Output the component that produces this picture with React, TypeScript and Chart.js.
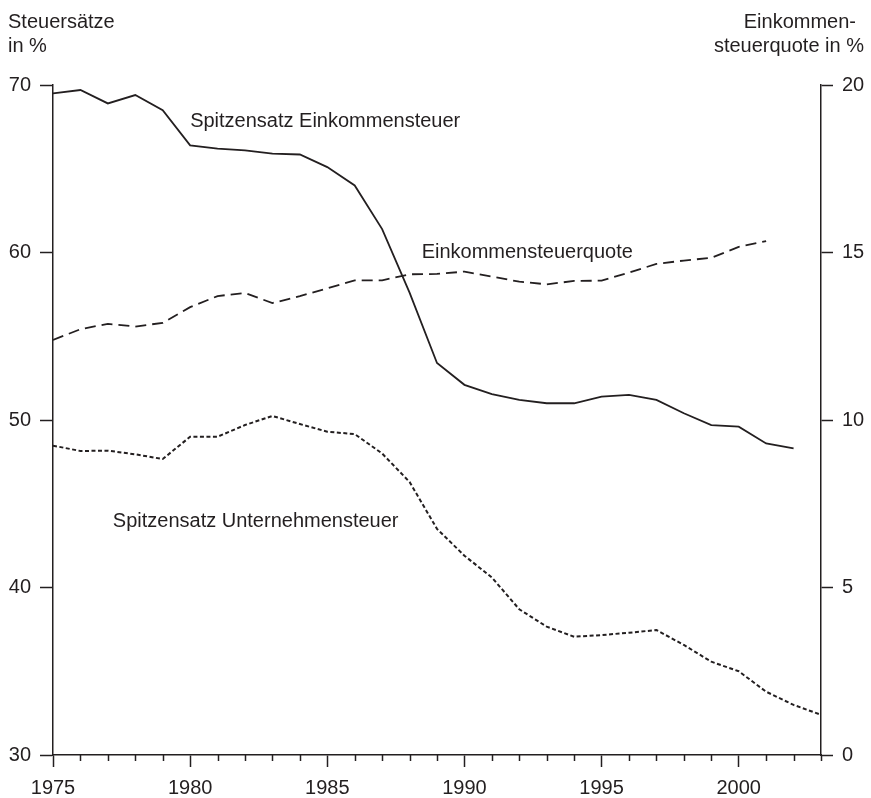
import React, { useEffect, useRef } from "react";
import { Chart, registerables } from "chart.js";

Chart.register(...registerables);

const years = [
  1975, 1976, 1977, 1978, 1979, 1980, 1981, 1982, 1983, 1984, 1985, 1986, 1987, 1988, 1989,
  1990, 1991, 1992, 1993, 1994, 1995, 1996, 1997, 1998, 1999, 2000, 2001, 2002, 2003,
];

// Spitzensatz Einkommensteuer (left axis, %), 1975–2002
const spitzensatzEinkommensteuer = [
  69.5, 69.7, 68.9, 69.4, 68.5, 66.4, 66.2, 66.1, 65.9, 65.85, 65.1, 64.0, 61.4, 57.6, 53.4,
  52.1, 51.55, 51.2, 51.0, 51.0, 51.4, 51.5, 51.2, 50.4, 49.7, 49.6, 48.6, 48.3,
];

// Einkommensteuerquote (right axis, %), 1975–2001
const einkommensteuerquote = [
  12.39, 12.71, 12.87, 12.79, 12.9, 13.37, 13.7, 13.79, 13.49, 13.7, 13.93, 14.17, 14.17, 14.35,
  14.36, 14.43, 14.28, 14.13, 14.05, 14.15, 14.16, 14.4, 14.66, 14.76, 14.84, 15.17, 15.34,
];

// Spitzensatz Unternehmensteuer (left axis, %), 1975–2003
const spitzensatzUnternehmensteuer = [
  48.47, 48.15, 48.17, 47.95, 47.67, 49.0, 49.0, 49.7, 50.24, 49.76, 49.3, 49.16, 48.0, 46.3,
  43.5, 41.9, 40.6, 38.7, 37.66, 37.06, 37.16, 37.3, 37.46, 36.57, 35.57, 35.0, 33.78, 32.99,
  32.4,
];

const leftTicks = [30, 40, 50, 60, 70];
const rightTicks = [0, 5, 10, 15, 20];

const leftTitle = ["Steuersätze", "in %"];
const rightTitle = ["Einkommen-", "steuerquote in %"];

const seriesLabels = [
  { text: "Spitzensatz Einkommensteuer", year: 1980, value: 67.5, axis: "y" },
  { text: "Einkommensteuerquote", year: 1988.44, value: 14.83, axis: "y1" },
  { text: "Spitzensatz Unternehmensteuer", year: 1977.18, value: 43.6, axis: "y" },
];

const INK = "#231f20";
const FONT_FAMILY = '"Liberation Sans", Arial, Helvetica, sans-serif';
const FONT_SIZE = 20;

function toXY(values: number[]) {
  return values.map((v, i) => ({ x: years[i], y: v }));
}

const decorPlugin = {
  id: "decor",
  afterDraw(chart: any) {
    const ctx = chart.ctx;
    const xs = chart.scales.x;
    ctx.save();
    // minor ticks on x axis
    ctx.strokeStyle = INK;
    ctx.lineWidth = 1.5;
    for (const yr of years) {
      if (yr % 5 === 0) continue;
      const px = Math.round(xs.getPixelForValue(yr)) + 0.5;
      ctx.beginPath();
      ctx.moveTo(px, xs.top);
      ctx.lineTo(px, xs.top + 6);
      ctx.stroke();
    }
    ctx.fillStyle = INK;
    ctx.font = `${FONT_SIZE}px ${FONT_FAMILY}`;
    ctx.textBaseline = "alphabetic";
    // axis titles
    ctx.textAlign = "left";
    ctx.fillText(leftTitle[0], 8, 28);
    ctx.fillText(leftTitle[1], 8, 52);
    ctx.textAlign = "right";
    ctx.fillText(rightTitle[0], 856, 28);
    ctx.fillText(rightTitle[1], 864, 52);
    // series labels
    ctx.textAlign = "left";
    for (const l of seriesLabels) {
      const px = xs.getPixelForValue(l.year);
      const py = chart.scales[l.axis].getPixelForValue(l.value);
      ctx.fillText(l.text, px, py);
    }
    ctx.restore();
  },
};

export default function App() {
  const canvasRef = useRef<HTMLCanvasElement | null>(null);

  useEffect(() => {
    if (!canvasRef.current) return;
    const font = { family: FONT_FAMILY, size: FONT_SIZE };
    const chart = new Chart(canvasRef.current, {
      type: "line",
      data: {
        datasets: [
          {
            label: "Spitzensatz Einkommensteuer",
            data: toXY(spitzensatzEinkommensteuer),
            yAxisID: "y",
            borderColor: INK,
            borderWidth: 1.8,
            pointRadius: 0,
            tension: 0,
            fill: false,
          },
          {
            label: "Einkommensteuerquote",
            data: toXY(einkommensteuerquote),
            yAxisID: "y1",
            borderColor: INK,
            borderWidth: 1.8,
            borderDash: [11, 6],
            pointRadius: 0,
            tension: 0,
            fill: false,
          },
          {
            label: "Spitzensatz Unternehmensteuer",
            data: toXY(spitzensatzUnternehmensteuer),
            yAxisID: "y",
            borderColor: INK,
            borderWidth: 2,
            borderDash: [4, 2.5],
            pointRadius: 0,
            tension: 0,
            fill: false,
          },
        ],
      },
      options: {
        animation: false,
        responsive: true,
        maintainAspectRatio: false,
        layout: { padding: { top: 85, left: 0, right: 0, bottom: 0 } },
        plugins: { legend: { display: false }, tooltip: { enabled: false } },
        scales: {
          x: {
            type: "linear",
            min: 1975,
            max: 2003,
            afterFit: (s: any) => {
              s.height = 43;
            },
            afterBuildTicks: (s: any) => {
              s.ticks = years.map((v) => ({ value: v }));
            },
            ticks: {
              autoSkip: false,
              maxRotation: 0,
              color: INK,
              font,
              padding: 9,
              callback: (v: any) => (Number(v) % 5 === 0 ? String(v) : ""),
            },
            grid: {
              drawOnChartArea: false,
              drawTicks: true,
              tickLength: 12,
              tickWidth: 1.5,
              tickColor: (c: any) =>
                c.tick && c.tick.value % 5 === 0 ? INK : "rgba(0,0,0,0)",
            },
            border: { display: true, color: INK, width: 1.5 },
          },
          y: {
            type: "linear",
            position: "left",
            min: 30,
            max: 70,
            afterFit: (s: any) => {
              s.width = 53;
            },
            afterBuildTicks: (s: any) => {
              s.ticks = leftTicks.map((v) => ({ value: v }));
            },
            ticks: { color: INK, font, padding: 9 },
            grid: {
              drawOnChartArea: false,
              drawTicks: true,
              tickLength: 13,
              tickWidth: 1.5,
              tickColor: INK,
            },
            border: { display: true, color: INK, width: 1.5 },
          },
          y1: {
            type: "linear",
            position: "right",
            min: 0,
            max: 20,
            afterFit: (s: any) => {
              s.width = 50;
            },
            afterBuildTicks: (s: any) => {
              s.ticks = rightTicks.map((v) => ({ value: v }));
            },
            ticks: { color: INK, font, padding: 9 },
            grid: {
              drawOnChartArea: false,
              drawTicks: true,
              tickLength: 12,
              tickWidth: 1.5,
              tickColor: INK,
            },
            border: { display: true, color: INK, width: 1.5 },
          },
        },
      },
      plugins: [decorPlugin],
    } as any);
    return () => chart.destroy();
  }, []);

  return (
    <div
      style={{
        position: "fixed",
        left: 0,
        top: 0,
        width: 871,
        height: 798,
        background: "#fff",
      }}
    >
      <canvas ref={canvasRef} />
    </div>
  );
}
